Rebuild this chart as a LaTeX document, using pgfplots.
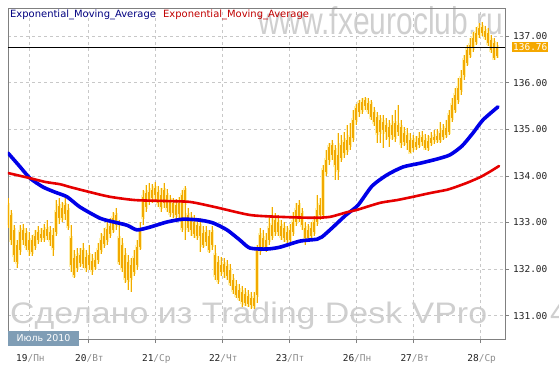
\documentclass[border=0pt]{standalone}
\usepackage{pgfplots}
\usepackage{pgfplotstable}
\pgfplotsset{compat=1.18}
\usepackage{fontspec}
\setmainfont{DejaVu Sans}
\newfontfamily\monof{DejaVu Sans Mono}
\newfontfamily\wmf{Liberation Sans}
\definecolor{candle}{HTML}{F2A900}
\definecolor{glow}{HTML}{FFEFA8}
\definecolor{emablue}{HTML}{0000E8}
\definecolor{emared}{HTML}{E60000}
\definecolor{gridc}{HTML}{C8C8C8}
\definecolor{framec}{HTML}{808080}
\definecolor{wm}{HTML}{CFCFCF}
\definecolor{monthbox}{HTML}{7F9DB5}
\definecolor{legblue}{HTML}{000080}
\definecolor{legred}{HTML}{C00000}
\definecolor{pricebox}{HTML}{F5A800}
\definecolor{daygray}{HTML}{8C8C8C}
\definecolor{numc}{HTML}{222222}

\pgfplotstableread{
x o h l c
8 133.37 133.52 132.88 132.94
11 133.16 133.27 132.52 132.62
14 132.84 132.94 132.15 132.30
17 132.52 132.62 132.02 132.15
20 132.41 132.94 132.30 132.80
23 132.62 132.97 132.52 132.84
26 132.77 132.88 132.41 132.49
29 132.62 132.80 132.28 132.41
32 132.37 132.73 132.28 132.62
35 132.49 132.84 132.41 132.71
38 132.62 132.92 132.54 132.80
41 132.75 132.88 132.58 132.67
44 132.67 132.97 132.58 132.84
47 132.71 133.05 132.62 132.86
50 132.80 132.92 132.49 132.62
53 132.73 132.88 132.28 132.45
56 132.80 133.48 132.71 133.22
59 133.10 133.52 132.97 133.35
62 133.31 133.44 133.01 133.10
65 133.18 133.55 133.05 133.37
68 133.27 133.40 132.84 132.92
71 132.67 132.94 131.94 132.09
74 132.24 132.41 131.81 131.87
77 132.02 132.45 131.94 132.28
80 132.30 132.45 132.04 132.13
83 132.11 132.56 132.02 132.41
86 132.26 132.41 131.94 132.02
89 132.09 132.52 131.98 132.30
92 132.17 132.32 131.87 131.98
95 132.04 132.37 131.98 132.19
98 132.19 132.56 132.11 132.41
101 132.41 132.77 132.32 132.62
104 132.54 132.88 132.45 132.71
107 132.62 133.01 132.52 132.86
110 132.75 133.10 132.67 132.92
113 132.84 133.22 132.77 133.10
116 132.94 133.31 132.84 133.16
119 132.67 133.05 132.09 132.15
122 132.52 132.67 131.94 132.02
125 132.30 132.45 131.70 131.81
128 131.76 132.30 131.55 132.15
131 132.09 132.24 131.51 131.81
134 131.94 132.41 131.85 132.24
137 132.09 132.62 131.98 132.47
140 132.47 133.01 132.41 132.84
143 133.12 133.70 132.94 133.55
146 133.33 133.80 133.22 133.63
149 133.48 133.85 133.37 133.65
152 133.70 133.82 133.42 133.52
155 133.59 133.87 133.48 133.74
158 133.65 133.78 133.33 133.42
161 133.33 133.74 133.22 133.59
164 133.42 133.85 133.31 133.70
167 133.59 133.72 133.22 133.31
170 133.48 133.59 133.12 133.20
173 133.20 133.52 133.10 133.42
176 133.37 133.50 133.05 133.16
179 133.18 133.55 133.10 133.42
182 133.59 133.70 132.80 132.88
185 133.42 133.78 132.62 133.70
188 133.16 133.31 132.80 132.88
191 132.84 133.22 132.71 133.10
194 133.01 133.16 132.67 132.75
197 132.71 133.10 132.62 132.94
200 132.92 133.10 132.37 132.71
203 132.77 132.92 132.45 132.52
206 132.58 132.92 132.49 132.80
209 132.71 132.84 132.34 132.41
212 132.52 132.92 132.41 132.80
215 132.30 132.52 131.76 131.87
218 131.76 132.28 131.68 132.15
221 132.09 132.26 131.85 131.94
224 131.94 132.24 131.81 132.11
227 132.06 132.19 131.76 131.85
230 131.98 132.11 131.64 131.70
233 131.76 131.89 131.46 131.55
236 131.64 131.76 131.38 131.44
239 131.38 131.68 131.31 131.55
242 131.51 131.64 131.18 131.29
245 131.27 131.59 131.21 131.46
248 131.42 131.55 131.18 131.25
251 131.23 131.51 131.14 131.38
254 131.38 131.51 131.14 131.21
257 131.44 132.52 131.27 132.41
260 132.41 132.88 132.30 132.73
263 132.67 132.84 132.41 132.47
266 132.45 132.77 132.37 132.62
269 132.62 133.16 132.52 132.88
272 132.71 133.33 132.62 132.94
275 132.80 133.20 132.71 133.05
278 133.01 133.16 132.71 132.80
281 132.92 133.05 132.62 132.71
284 132.67 133.01 132.58 132.88
287 132.80 132.92 132.54 132.62
290 132.62 132.97 132.54 132.84
293 132.80 133.22 132.71 133.01
296 133.01 133.42 132.92 133.27
299 133.10 133.48 133.01 133.37
302 133.20 133.31 132.84 132.94
305 132.88 133.01 132.52 132.67
308 132.67 132.97 132.58 132.84
311 132.71 133.01 132.62 132.88
314 132.80 133.14 132.71 133.01
317 133.01 133.59 132.92 133.27
320 133.16 133.52 133.05 133.37
323 133.16 134.23 133.10 134.12
326 134.08 134.55 134.00 134.34
329 134.34 134.70 134.23 134.62
332 134.45 134.77 134.34 134.66
335 134.55 134.66 133.91 134.23
338 134.12 134.92 133.91 134.45
341 134.38 134.88 134.30 134.66
344 134.73 134.94 134.38 134.49
347 134.55 135.09 134.45 134.77
350 134.66 135.13 134.55 134.83
353 134.81 135.41 134.73 135.20
356 135.20 135.54 135.09 135.46
359 135.37 135.63 135.26 135.56
362 135.58 135.67 135.33 135.41
365 135.50 135.69 135.41 135.63
368 135.56 135.67 135.33 135.41
371 135.54 135.63 135.20 135.26
374 135.37 135.48 135.07 135.16
377 135.26 135.37 134.70 134.92
380 134.94 135.31 134.70 135.20
383 135.16 135.31 134.60 134.98
386 134.94 135.24 134.77 135.09
389 135.05 135.20 134.62 134.83
392 134.88 135.31 134.77 135.09
395 135.13 135.41 134.73 134.83
398 134.94 135.52 134.85 135.09
401 135.05 135.20 134.60 134.70
404 134.73 135.05 134.64 134.92
407 134.88 135.03 134.55 134.70
410 134.77 134.92 134.49 134.51
413 134.60 134.88 134.51 134.77
416 134.73 134.85 134.55 134.62
419 134.66 134.94 134.60 134.81
422 134.73 134.96 134.64 134.83
425 134.77 134.90 134.55 134.60
428 134.60 134.88 134.53 134.75
431 134.70 134.94 134.64 134.81
434 134.77 134.98 134.68 134.83
437 134.85 135.00 134.70 134.77
440 134.77 135.16 134.70 134.92
443 134.83 135.11 134.77 134.98
446 134.88 135.20 134.81 135.03
449 134.94 135.41 134.88 135.31
452 135.24 135.67 135.16 135.52
455 135.41 135.88 135.35 135.73
458 135.63 136.10 135.54 135.88
461 135.84 136.27 135.73 136.10
464 136.16 136.59 136.06 136.49
467 136.42 136.81 136.36 136.70
470 136.59 136.96 136.53 136.81
473 136.74 137.09 136.66 136.96
476 136.87 137.19 136.81 137.06
479 137.02 137.28 136.96 137.17
482 137.19 137.30 137.00 137.06
485 137.11 137.22 136.91 136.98
488 137.06 137.17 136.79 136.85
491 136.91 137.02 136.64 136.70
494 136.85 136.96 136.49 136.53
497 136.57 136.87 136.53 136.76
}\candles

\begin{document}
\begin{tikzpicture}
\useasboundingbox (-8bp,-29bp) rectangle (551bp,339bp);
% watermarks
\node[anchor=base west, inner sep=0pt, text=wm] at (2bp,16bp)
  {\resizebox{477bp}{21.5bp}{\wmf Сделано из Trading Desk VPro}};
\node[anchor=base west, inner sep=0pt, text=wm] at (542bp,16bp)
  {\resizebox{!}{21.5bp}{\wmf 4}};
\node[anchor=base west, inner sep=0pt, text=wm] at (250bp,304bp)
  {\resizebox{245bp}{28bp}{\wmf www.fxeuroclub.ru}};
\begin{axis}[
  at={(0,0)}, anchor=south west,
  scale only axis, width=497bp, height=331bp,
  xmin=8, xmax=505, ymin=130.5, ymax=137.6,
  axis line style={framec, line width=0.8bp},
  xtick={29.4,88.4,155.3,222.2,289,356,413.7,480.6},
  xticklabels={19\textcolor{daygray}{/Пн},20\textcolor{daygray}{/Вт},21\textcolor{daygray}{/Ср},22\textcolor{daygray}{/Чт},23\textcolor{daygray}{/Пт},26\textcolor{daygray}{/Пн},27\textcolor{daygray}{/Вт},28\textcolor{daygray}{/Ср}},
  ytick={131,132,133,134,135,136,137},
  yticklabels={131.00,132.00,133.00,134.00,135.00,136.00,137.00},
  xtick pos=bottom, ytick pos=right, yticklabel pos=right,
  tick align=outside, major tick length=4bp,
  tick style={framec, line width=0.6bp},
  grid=major, major grid style={gridc, dash pattern=on 3bp off 3bp, line width=0.6bp},
  ticklabel style={font=\monof\fontsize{9.5}{10}\selectfont, text=numc},
  xticklabel style={anchor=north west, inner sep=0pt, xshift=-13.4bp, yshift=-11bp},
  yticklabel style={anchor=west, inner sep=0pt, xshift=4bp},
  clip=true,
]
% candle glow
\addplot[draw=none, mark=none, forget plot,
  error bars/.cd, y dir=minus, y explicit, error mark=none,
  error bar style={draw=glow, solid, line width=2.2bp}]
  table[x=x, y=h, y error expr=\thisrow{h}-\thisrow{l}] {\candles};
\addplot[draw=none, mark=none, forget plot,
  error bars/.cd, y dir=minus, y explicit, error mark=none,
  error bar style={draw=glow, solid, line width=3.6bp, line cap=rect}]
  table[x=x, y expr={max(\thisrow{o},\thisrow{c})}, y error expr={abs(\thisrow{o}-\thisrow{c})}] {\candles};
% wicks
\addplot[draw=none, mark=none, forget plot,
  error bars/.cd, y dir=minus, y explicit, error mark=none,
  error bar style={draw=candle, solid, line width=0.8bp}]
  table[x=x, y=h, y error expr=\thisrow{h}-\thisrow{l}] {\candles};
% bodies
\addplot[draw=none, mark=none, forget plot,
  error bars/.cd, y dir=minus, y explicit, error mark=none,
  error bar style={draw=candle, solid, line width=2.1bp}]
  table[x=x, y expr={max(\thisrow{o},\thisrow{c})}, y error expr={abs(\thisrow{o}-\thisrow{c})}] {\candles};
% current price line
\addplot[black, line width=0.9bp, mark=none, forget plot] coordinates {(8,136.76) (505,136.76)};
% blue EMA
\addplot[emablue, line width=3.6bp, mark=none, smooth, tension=0.4, line join=round, line cap=round] coordinates {
(8,134.49) (19,134.22) (30,133.95) (43,133.76) (55,133.65) (67,133.55) (80,133.33) (100,133.09) (110,133.03) (127,132.94) (137,132.84) (150,132.90) (167,133.01) (183,133.07) (200,133.05) (213,132.99) (227,132.84) (240,132.62) (250,132.45) (267,132.43) (280,132.47) (300,132.60) (317,132.64) (322,132.69) (332,132.88) (346,133.16) (358,133.37) (372,133.78) (387,134.02) (403,134.19) (420,134.27) (437,134.36) (450,134.45) (462,134.64) (473,134.92) (483,135.20) (498,135.48)};
% red EMA
\addplot[emared, line width=2.6bp, mark=none, smooth, tension=0.4, line join=round, line cap=round] coordinates {
(8,134.06) (30,133.95) (45,133.87) (60,133.82) (70,133.76) (90,133.65) (110,133.55) (135,133.48) (165,133.46) (190,133.44) (215,133.33) (250,133.16) (280,133.12) (313,133.10) (330,133.12) (347,133.22) (357,133.27) (380,133.42) (397,133.48) (413,133.55) (430,133.63) (447,133.70) (453,133.74) (467,133.85) (480,133.97) (490,134.09) (499,134.21)};
\end{axis}
% legend texts
\node[anchor=base west, inner sep=0pt, text=legblue, font=\fontsize{10}{12}\selectfont] at (2bp,321bp) {Exponential\_Moving\_Average};
\node[anchor=base west, inner sep=0pt, text=legred, font=\fontsize{10}{12}\selectfont] at (155bp,321bp) {Exponential\_Moving\_Average};
% current price box
\node[anchor=west, fill=pricebox, text=white, inner xsep=1bp, inner ysep=1.5bp, font=\monof\fontsize{9.5}{10}\selectfont] at (504bp,292bp) {136.76};
% month box
\fill[monthbox] (0bp,-7bp) rectangle (71bp,8bp);
\node[text=white, inner sep=0pt, font=\fontsize{9.5}{11}\selectfont] at (35.5bp,0.5bp) {Июль 2010};
\end{tikzpicture}
\end{document}
